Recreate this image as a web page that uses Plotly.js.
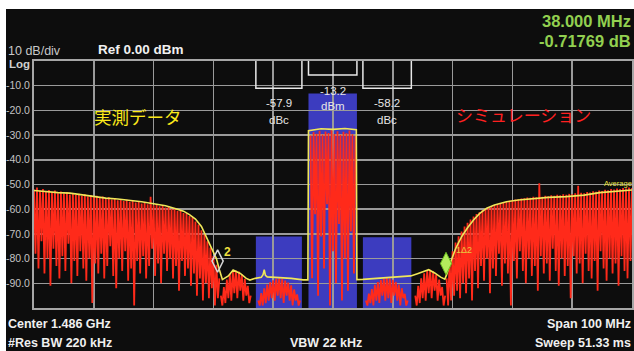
<!DOCTYPE html>
<html>
<head>
<meta charset="utf-8">
<script src="https://cdn.plot.ly/plotly-3.0.1.min.js"></script>
<style>
  html, body { margin: 0; padding: 0; background: #ffffff; width: 634px; height: 351px; overflow: hidden; }
  #plot { position: absolute; left: 6px; top: 9px; width: 628px; height: 342px; }
</style>
</head>
<body>
<div id="plot"></div>
<script>
// ---------- DATA ----------
// Sweep sample spacing (MHz) used for the simulated spectrum segments
const FREQ_STEP = 0.25;

// Simulated spectrum (red), segments with their start frequency (MHz offset from center)
const simSegStart = [-50, -18.75, -12.5, -3.75, 5.5, 13.75, 19];

const simLeft = [
  -52.0,-78, -51.2,-84, -52.5,-73, -51.8,-86, -52.9,-80, -52.2,-91, -53.1,-76, -52.4,-83,
  -53.5,-88, -52.8,-79, -53.7,-85, -53.0,-74, -54.1,-90, -53.4,-81, -54.3,-87, -53.8,-77,
  -54.6,-84, -54.0,-89, -54.9,-80, -54.3,-98, -55.1,-82, -54.6,-86, -55.4,-78, -54.9,-88,
  -55.8,-83, -55.2,-75, -56.1,-87, -55.5,-92, -56.4,-80, -55.9,-85, -56.7,-77, -56.2,-89,
  -57.0,-84, -56.5,-99, -57.3,-81, -56.9,-86, -57.7,-79, -57.2,-88, -58.0,-83, -55.0,-76,
  -58.4,-87, -57.9,-82, -58.8,-90, -58.4,-78, -59.3,-85, -58.9,-80, -59.9,-88, -59.6,-83,
  -60.6,-93, -60.5,-81, -61.5,-87, -61.6,-84, -62.8,-91, -63.3,-86, -65.0,-95, -66.2,-88,
  -68.5,-97, -70.2,-90, -73.0,-96, -75.5,-92, -79.0,-99, -82.5,-96, -88.0
];
const simLobeL = [
  -95,-99, -91.5,-98, -88.5,-96, -86.3,-97, -85.2,-94, -84.8,-96, -85.3,-93, -86.4,-97,
  -88.2,-95, -91,-98, -95
];
const simAdjL = [
  -97,-99, -94,-99, -92,-98, -90.5,-97, -89.5,-96, -88.8,-97, -88.2,-95, -88.0,-96,
  -88.3,-98, -88.9,-95, -89.7,-97, -90.8,-99, -92.5,-97, -94.5,-99, -97
];
const simMain = [
  -30.2,-88, -28.8,-62, -29.5,-95, -28.2,-71, -29.8,-84, -28.5,-58, -29.2,-99, -28.0,-77,
  -29.6,-90, -28.4,-66, -29.9,-97, -28.6,-80, -29.3,-93, -28.1,-69, -29.7,-86, -30.3
];
const simAdjR = [
  -97,-99, -94.2,-98, -92.3,-99, -90.6,-97, -89.5,-98, -88.7,-95, -88.2,-97, -87.9,-96,
  -88.1,-98, -88.6,-95, -89.4,-97, -90.5,-99, -92.0,-96, -94.3,-99, -97
];
const simLobeR = [
  -95,-99, -91,-98, -88,-96, -86,-97, -84.8,-94, -84.5,-96, -85.2,-93, -86.5,-97,
  -88.5,-95, -91.5,-99, -95
];
const simRight = [
  -88.0,-99, -81.0,-97, -77.0,-95, -73.5,-93, -71.0,-96, -69.0,-90, -67.0,-94, -65.5,-88,
  -64.2,-97, -63.0,-85, -62.0,-92, -61.2,-83, -60.3,-89, -59.8,-80, -59.2,-94, -58.8,-84,
  -58.3,-87, -57.9,-78, -57.6,-91, -57.2,-82, -57.0,-86, -56.6,-99, -56.5,-81, -56.1,-88,
  -56.0,-77, -55.7,-85, -55.6,-90, -55.3,-80, -55.4,-87, -55.0,-83, -55.2,-93, -49.5,-79,
  -55.0,-86, -54.6,-82, -54.8,-89, -54.4,-76, -54.6,-85, -54.2,-91, -54.4,-80, -54.0,-87,
  -54.2,-83, -53.8,-96, -54.0,-79, -53.6,-86, -50.5,-82, -53.3,-90, -53.5,-78, -53.0,-85,
  -53.2,-88, -52.7,-81, -52.9,-93, -52.4,-77, -52.6,-84, -52.1,-89, -52.3,-80, -51.8,-86,
  -52.0,-82, -51.6,-91, -51.8,-79, -51.4,-85, -51.6,-88, -51.2,-81, -51.4
];
const simSegments = [simLeft, simLobeL, simAdjL, simMain, simAdjR, simLobeR, simRight];

// Measured spectrum (yellow)
const measFreq = [-50,-48,-46,-44,-42,-40,-38,-36,-34,-32,-30,-28,-26,-25,-24,-23,-22,-21.5,-21,-20.5,
  -20,-19.5,-19,-18.5,-17.5,-16.7,-15.5,-14.5,-13.9,-13,-12,-11.7,-11.5,-11.3,-11,-9,-7,-5,-4.2,-4.1,
  -2,0,2,3.9,4.0,5,7,9,11,13,14,15,16,17,18,18.7,19,19.5,20,20.5,21,21.5,22.5,23.5,24.5,25.7,27,29,31,
  33.5,36,39,42,44.6,47,50];
const measDb = [-52.4,-52.9,-53.3,-53.5,-54.2,-54.8,-55.5,-55.9,-56.3,-57.0,-57.8,-58.6,-60.0,-60.8,-62.2,-64.0,-67.0,-69.5,-72.0,-74.5,
  -77.5,-80.0,-84.5,-88.5,-87.0,-84.6,-86.0,-88.0,-88.7,-88.0,-87.6,-86.5,-84.5,-86.8,-87.4,-87.6,-88.0,-88.6,-88.6,-28.2,
  -27.4,-27.7,-27.3,-27.8,-88.5,-88.4,-88.1,-87.8,-87.5,-87.0,-86.2,-85.2,-84.5,-85.8,-87.5,-88.3,-86.5,-82.5,-79.0,-76.0,-73.5,-71.2,-67.5,-64.4,-61.8,-59.6,-58.3,-57.0,-56.3,
  -55.6,-55.2,-54.9,-54.3,-53.3,-52.8,-52.2];

// Channel power measurement
const chanLo = [-12.9, -4.1, 5.0];
const chanHi = [-5.2, 4.0, 13.1];
const mainPower = -13.2;          // dBm
const acpr = [-57.9, -58.2];      // dBc (lower, upper)

// Markers
const mkFreq = [-19.3, 18.9];
const mkDb = [-81, -82];
const mkLabel = ['2', '1\u03942'];

// Y ticks
const yTickVals = [-10,-20,-30,-40,-50,-60,-70,-80,-90];
const yTickText = ['-10.0','-20.0','-30.0','-40.0','-50.0','-60.0','-70.0','-80.0','-90.0'];

// ---------- BUILD ----------
const simX = [], simY = [];
simSegments.forEach((seg, s) => {
  seg.forEach((v, i) => { simX.push(simSegStart[s] + i * FREQ_STEP); simY.push(v); });
  simX.push(null); simY.push(null);
});

const chanTop = [mainPower + acpr[0], mainPower, mainPower + acpr[1]];
const bracketLevel = [-11, -5.7, -11];
const FONT = 'Liberation Sans, Arial, sans-serif';

const shapes = [];
chanLo.forEach((lo, k) => {
  shapes.push({type:'rect', xref:'x', yref:'y', x0: lo, x1: chanHi[k], y0: -100, y1: chanTop[k],
    fillcolor:'#3c3cbf', line:{width:0}, layer:'below'});
});
chanLo.forEach((lo, k) => {
  const hi = chanHi[k], b = bracketLevel[k];
  shapes.push({type:'path', xref:'x', yref:'y', path:`M ${lo} 0 L ${lo} ${b} L ${hi} ${b} L ${hi} 0`,
    line:{color:'#e8e8e8', width:1.5}, layer:'above'});
});

const annotations = [];
function ann(text, x, y, xanchor, size, color, bold, family) {
  annotations.push({text: bold ? '<b>' + text + '</b>' : text, xref:'paper', yref:'paper', x, y,
    xanchor, yanchor:'middle', showarrow:false, borderpad:0, font:{size, color, family: family || FONT}});
}
ann('10 dB/div', -0.0452, 1.0405, 'left', 12.5, '#c8c8c8', false);
ann('Ref 0.00 dBm', 0.1054, 1.0466, 'left', 13.5, '#f0f0f0', true);
ann('Log', -0.0435, 0.9879, 'left', 11.5, '#d0d0d0', true);
ann('38.000 MHz', 1.0, 1.162, 'right', 16.5, '#92d050', true);
ann('-0.71769 dB', 1.0, 1.082, 'right', 16.5, '#92d050', true);
ann('Center 1.486 GHz', -0.0452, -0.0648, 'left', 12.5, '#f0f0f0', true);
ann('#Res BW 220 kHz', -0.0452, -0.1417, 'left', 12.5, '#f0f0f0', true);
ann('VBW 22 kHz', 0.4883, -0.1417, 'center', 12.5, '#f0f0f0', true);
ann('Span 100 MHz', 1.0, -0.0648, 'right', 12.5, '#f0f0f0', true);
ann('Sweep 51.33 ms', 1.0, -0.1417, 'right', 12.5, '#f0f0f0', true);
ann('実測データ', 0.0987, 0.7773, 'left', 17.5, '#fbe91a', false, 'Noto Sans CJK JP');
ann('シミュレーション', 0.704, 0.7814, 'left', 17, '#ff2020', false, 'Noto Sans CJK JP');
ann('Average', 0.9515, 0.504, 'left', 7.5, '#e6e040', false);

// channel power labels (data coords)
const chanMid = chanLo.map((lo, k) => (lo + chanHi[k]) / 2);
const chanVal = [acpr[0].toFixed(1), mainPower.toFixed(1), acpr[1].toFixed(1)];
const chanUnit = ['dBc', 'dBm', 'dBc'];
const valY = [-16.8, -12.3, -16.8];
const unitY = [-23.9, -18.2, -23.9];
chanMid.forEach((m, k) => {
  annotations.push({text: chanVal[k], x: m, y: valY[k], xref:'x', yref:'y', showarrow:false,
    font:{size:11.5, color:'#e6e6e6', family: FONT}});
  annotations.push({text: chanUnit[k], x: m, y: unitY[k], xref:'x', yref:'y', showarrow:false,
    font:{size:11.5, color:'#e6e6e6', family: FONT}});
});

// marker labels (data coords, placed just right of each marker)
const mkLabelDx = [1.7, 3.0];
const mkLabelDy = [3.5, 5.5];
mkFreq.forEach((f, k) => {
  annotations.push({text: k === 0 ? '<b>' + mkLabel[k] + '</b>' : mkLabel[k],
    x: f + mkLabelDx[k], y: mkDb[k] + mkLabelDy[k], xref:'x', yref:'y', showarrow:false,
    font:{size: k === 0 ? 12 : 9, color: k === 0 ? '#f0e040' : '#e8c840', family: FONT}});
});

const traces = [
  {type:'scatter', mode:'lines', x: simX, y: simY, connectgaps:false,
   line:{color:'#ff2a1a', width:1.8}, hoverinfo:'skip'},
  {type:'scatter', mode:'lines', x: measFreq, y: measDb,
   line:{color:'#efe65a', width:1.6}, hoverinfo:'skip'},
  {type:'scatter', mode:'markers', x:[mkFreq[0]], y:[mkDb[0]],
   marker:{symbol:'diamond-tall-open', size:16, color:'#d8d8d8', line:{width:1.5, color:'#d8d8d8'}}},
  {type:'scatter', mode:'markers', x:[mkFreq[1]], y:[mkDb[1]],
   marker:{symbol:'diamond-tall', size:16, color:'#b4ec5c', line:{width:1, color:'#6cc020'}}}
];

const layout = {
  width: 628, height: 342,
  margin: {l:28, r:2, t:52, b:43, pad:0},
  paper_bgcolor: '#0d0d0d', plot_bgcolor: '#0d0d0d',
  showlegend: false,
  xaxis: {range:[-50,50], tick0:-50, dtick:10, showticklabels:false, ticks:'',
    showgrid:true, gridcolor:'#9a9a9a', gridwidth:1.5, zeroline:false,
    showline:true, mirror:true, linecolor:'#a6a6a6', linewidth:2, fixedrange:true},
  yaxis: {range:[-100,0], tickvals:yTickVals, ticktext:yTickText, ticks:'',
    tickfont:{size:10.5, color:'#c4c4c4', family: FONT},
    showgrid:true, gridcolor:'#9a9a9a', gridwidth:1.5, zeroline:false,
    showline:true, mirror:true, linecolor:'#a6a6a6', linewidth:2, fixedrange:true},
  shapes, annotations
};

Plotly.newPlot('plot', traces, layout, {staticPlot:true, displayModeBar:false});
</script>
</body>
</html>
